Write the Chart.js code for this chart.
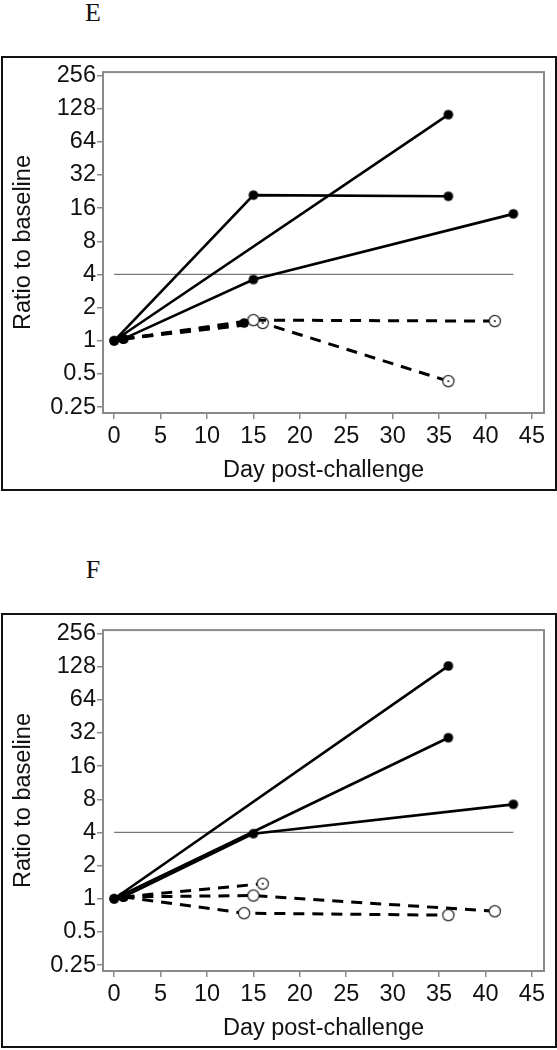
<!DOCTYPE html>
<html>
<head>
<meta charset="utf-8">
<script src="https://cdn.jsdelivr.net/npm/chart.js@4.4.1/dist/chart.umd.min.js"></script>
<style>
    body { margin: 0; background: #fff; width: 557px; height: 1050px; position: relative; overflow: hidden; }
    .letter { position: absolute; left: 80px; width: 26px; text-align: center; font: 26px "Liberation Serif", serif; line-height: 26px; color: #111; }
    .panel { position: absolute; left: 1px; width: 552px; height: 431px; border: 2px solid #111; }
    canvas { position: absolute; left: 0; }
</style>
</head>
<body>
<div class="letter" style="top: 0px;">E</div>
<div class="panel" style="top: 56px;"></div>
<canvas id="chartE" width="557" height="435" style="top: 57px;"></canvas>

<div class="letter" style="top: 557px;">F</div>
<div class="panel" style="top: 613px;"></div>
<canvas id="chartF" width="557" height="435" style="top: 615px;"></canvas>

<script>
// Axis ticks
const xTicks = [0, 5, 10, 15, 20, 25, 30, 35, 40, 45];
const yTicks = [0.25, 0.5, 1, 2, 4, 8, 16, 32, 64, 128, 256];

// Threshold line (ratio 4)
const thresholdDays = [0, 43];
const thresholdRatio = [4, 4];

// Panel E - solid lines
const eSolid1Days = [0, 15, 36];
const eSolid1Ratio = [1, 21, 20.5];
const eSolid2Days = [0, 36];
const eSolid2Ratio = [1, 113];
const eSolid3Days = [1, 15, 43];
const eSolid3Ratio = [1.04, 3.6, 14.2];

// Panel E - dashed lines
const eDash1Days = [1, 14];
const eDash1Ratio = [1.04, 1.45];
const eDash2Days = [1, 15, 41];
const eDash2Ratio = [1.04, 1.54, 1.51];
const eDash3Days = [1, 16, 36];
const eDash3Ratio = [1.04, 1.45, 0.43];

// Panel F - solid lines
const fSolid1Days = [0, 36];
const fSolid1Ratio = [1, 130];
const fSolid2Days = [0, 36];
const fSolid2Ratio = [1, 29];
const fSolid3Days = [1, 15, 43];
const fSolid3Ratio = [1.04, 3.9, 7.2];

// Panel F - dashed lines
const fDash1Days = [1, 16];
const fDash1Ratio = [1.04, 1.37];
const fDash2Days = [1, 15, 41];
const fDash2Ratio = [1.04, 1.07, 0.77];
const fDash3Days = [1, 14, 36];
const fDash3Ratio = [1.04, 0.74, 0.71];

// Marker shapes
function makeMarker(kind) {
    const c = document.createElement("canvas");
    c.width = 16;
    c.height = 16;
    const g = c.getContext("2d");
    g.beginPath();
    if (kind === "fill") {
        g.arc(8, 8, 4.8, 0, Math.PI * 2);
        g.fillStyle = "#000";
        g.fill();
    } else {
        g.arc(8, 8, 5.6, 0, Math.PI * 2);
        g.fillStyle = "#fff";
        g.fill();
        g.lineWidth = 1.2;
        g.strokeStyle = "#222";
        g.stroke();
        if (kind === "dot") {
            g.beginPath();
            g.arc(8, 8, 1.1, 0, Math.PI * 2);
            g.fillStyle = "#222";
            g.fill();
        }
    }
    return c;
}
const markers = { fill: makeMarker("fill"), open: makeMarker("open"), dot: makeMarker("dot") };

function pts(days, ratio) {
    return days.map((d, i) => ({ x: d, y: ratio[i] }));
}

function solid(days, ratio) {
    return {
        data: pts(days, ratio),
        borderColor: "#000",
        borderWidth: 2.6,
        pointStyle: markers.fill,
        pointRadius: 5,
        tension: 0,
    };
}

function dashed(days, ratio, kinds) {
    return {
        data: pts(days, ratio),
        borderColor: "#000",
        borderWidth: 3,
        borderDash: [11, 8],
        pointStyle: ctx => markers[kinds[ctx.dataIndex]],
        pointRadius: 5,
        tension: 0,
    };
}

function threshold() {
    return {
        data: pts(thresholdDays, thresholdRatio),
        borderColor: "#777",
        borderWidth: 1.3,
        pointRadius: 0,
    };
}

// Gray frame round the plot area
const frame = {
    id: "frame",
    beforeDatasetsDraw(chart) {
        const a = chart.chartArea;
        const g = chart.ctx;
        g.save();
        g.strokeStyle = "#8a8a8a";
        g.lineWidth = 2;
        g.strokeRect(a.left, a.top, a.right - a.left, a.bottom - a.top);
        g.restore();
    },
};

const font = { family: "'Liberation Sans', Arial, sans-serif", size: 23.5 };

function makeChart(id, datasets) {
    return new Chart(document.getElementById(id), {
        type: "line",
        data: { datasets: datasets },
        plugins: [frame],
        options: {
            responsive: false,
            animation: false,
            layout: { padding: { top: 12, right: 13, left: 0, bottom: 0 } },
            plugins: { legend: { display: false }, tooltip: { enabled: false } },
            scales: {
                x: {
                    type: "linear",
                    min: -1.2,
                    max: 46.3,
                    afterBuildTicks: s => { s.ticks = xTicks.map(v => ({ value: v })); },
                    afterFit: s => { s.height = 79; },
                    ticks: { color: "#111", font: font, padding: 3, maxRotation: 0, autoSkip: false },
                    grid: { drawOnChartArea: false, drawTicks: true, tickLength: 6, color: "#8a8a8a", lineWidth: 1.5 },
                    border: { display: false },
                    title: { display: true, text: "Day post-challenge", color: "#111", font: font, padding: { top: 0, bottom: 7 } },
                },
                y: {
                    type: "logarithmic",
                    min: 0.221,
                    max: 275,
                    afterBuildTicks: s => { s.ticks = yTicks.map(v => ({ value: v })); },
                    afterFit: s => { s.width = 103; },
                    ticks: { color: "#111", font: font, padding: 1, autoSkip: false, callback: v => String(v) },
                    grid: { drawOnChartArea: false, drawTicks: true, tickLength: 6, color: "#8a8a8a", lineWidth: 1.5 },
                    border: { display: false },
                    title: { display: true, text: "Ratio to baseline", color: "#111", font: font, padding: { top: 9, bottom: 0 } },
                },
            },
        },
    });
}

makeChart("chartE", [
    solid(eSolid1Days, eSolid1Ratio),
    solid(eSolid2Days, eSolid2Ratio),
    solid(eSolid3Days, eSolid3Ratio),
    dashed(eDash1Days, eDash1Ratio, ["fill", "fill"]),
    dashed(eDash2Days, eDash2Ratio, ["fill", "open", "dot"]),
    dashed(eDash3Days, eDash3Ratio, ["fill", "dot", "dot"]),
    threshold(),
]);

makeChart("chartF", [
    solid(fSolid1Days, fSolid1Ratio),
    solid(fSolid2Days, fSolid2Ratio),
    solid(fSolid3Days, fSolid3Ratio),
    dashed(fDash1Days, fDash1Ratio, ["fill", "dot"]),
    dashed(fDash2Days, fDash2Ratio, ["fill", "open", "open"]),
    dashed(fDash3Days, fDash3Ratio, ["fill", "open", "open"]),
    threshold(),
]);
</script>
</body>
</html>
